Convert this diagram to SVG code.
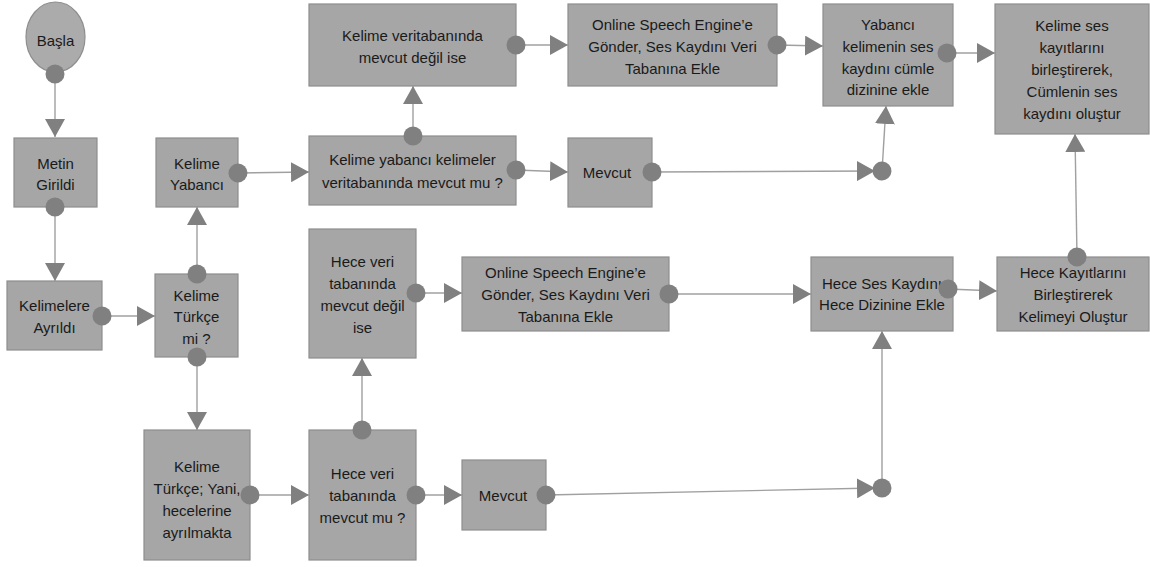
<svg xmlns="http://www.w3.org/2000/svg" width="1150" height="567" viewBox="0 0 1150 567">
<defs>
<style>
.box{fill:#a6a6a6;stroke:#8e8e8e;stroke-width:1.2}
.t{font-family:"Liberation Sans",Arial,sans-serif;font-size:15px;fill:#1a1a1a;text-anchor:middle;dominant-baseline:central}
.c{fill:none;stroke:#a0a0a0;stroke-width:1.4}
</style>
<marker id="dot" markerUnits="userSpaceOnUse" viewBox="-10 -10 20 20" refX="0" refY="0" markerWidth="20" markerHeight="20" orient="auto">
<circle cx="0" cy="0" r="9.5" fill="#808080"/>
</marker>
<marker id="arr" markerUnits="userSpaceOnUse" viewBox="-18 -10 18 20" refX="0" refY="0" markerWidth="18" markerHeight="20" orient="auto">
<path d="M-18,-10 L0,0 L-18,10 Z" fill="#808080"/>
</marker>
</defs>
<rect width="1150" height="567" fill="#ffffff"/>

<g id="n-basla"><ellipse cx="55.5" cy="37" rx="29.5" ry="35" fill="#ababab" stroke="#8e8e8e" stroke-width="1.2"/><text class="t" x="55.5" y="40">Başla</text></g>
<g id="n-metin"><rect class="box" x="14" y="138" width="83" height="69"/><text class="t" x="55.5" y="163">Metin</text><text class="t" x="55.5" y="184">Girildi</text></g>
<g id="n-kelimelere"><rect class="box" x="7" y="281" width="95" height="69"/><text class="t" x="54.5" y="305">Kelimelere</text><text class="t" x="54.5" y="327">Ayrıldı</text></g>
<g id="n-turkce"><rect class="box" x="155" y="274" width="83" height="83"/><text class="t" x="196.5" y="295">Kelime</text><text class="t" x="196.5" y="316">Türkçe</text><text class="t" x="196.5" y="338">mi ?</text></g>
<g id="n-yabanci"><rect class="box" x="156" y="138" width="82" height="69"/><text class="t" x="197" y="163">Kelime</text><text class="t" x="197" y="184">Yabancı</text></g>
<g id="n-yani"><rect class="box" x="144" y="430" width="106" height="130"/><text class="t" x="197" y="466">Kelime</text><text class="t" x="197" y="488">Türkçe; Yani,</text><text class="t" x="197" y="510">hecelerine</text><text class="t" x="197" y="532">ayrılmakta</text></g>
<g id="n-kdegil"><rect class="box" x="309" y="4" width="207" height="82"/><text class="t" x="412.5" y="35">Kelime veritabanında</text><text class="t" x="412.5" y="57">mevcut değil ise</text></g>
<g id="n-kmu"><rect class="box" x="309" y="136" width="207" height="69"/><text class="t" x="412.5" y="159">Kelime yabancı kelimeler</text><text class="t" x="412.5" y="182">veritabanında mevcut mu ?</text></g>
<g id="n-online1"><rect class="box" x="568" y="4" width="209" height="82"/><text class="t" x="672.5" y="24">Online Speech Engine’e</text><text class="t" x="672.5" y="46">Gönder, Ses Kaydını Veri</text><text class="t" x="672.5" y="68">Tabanına Ekle</text></g>
<g id="n-mevcut1"><rect class="box" x="568" y="138" width="84" height="69"/><text class="t" x="607" y="172">Mevcut</text></g>
<g id="n-cumle"><rect class="box" x="823" y="4" width="130" height="102"/><text class="t" x="888" y="24">Yabancı</text><text class="t" x="888" y="46">kelimenin ses</text><text class="t" x="888" y="68">kaydını cümle</text><text class="t" x="888" y="89">dizinine ekle</text></g>
<g id="n-birlestir"><rect class="box" x="995" y="4" width="154" height="130"/><text class="t" x="1072" y="25">Kelime ses</text><text class="t" x="1072" y="47">kayıtlarını</text><text class="t" x="1072" y="69">birleştirerek,</text><text class="t" x="1072" y="91">Cümlenin ses</text><text class="t" x="1072" y="113">kaydını oluştur</text></g>
<g id="n-hdegil"><rect class="box" x="309" y="229" width="107" height="129"/><text class="t" x="362.5" y="261">Hece veri</text><text class="t" x="362.5" y="283">tabanında</text><text class="t" x="362.5" y="305">mevcut değil</text><text class="t" x="362.5" y="327">ise</text></g>
<g id="n-hmu"><rect class="box" x="309" y="430" width="107" height="130"/><text class="t" x="362.5" y="473">Hece veri</text><text class="t" x="362.5" y="495">tabanında</text><text class="t" x="362.5" y="517">mevcut mu ?</text></g>
<g id="n-online2"><rect class="box" x="462" y="257" width="207" height="74"/><text class="t" x="565.5" y="272">Online Speech Engine’e</text><text class="t" x="565.5" y="294">Gönder, Ses Kaydını Veri</text><text class="t" x="565.5" y="316">Tabanına Ekle</text></g>
<g id="n-mevcut2"><rect class="box" x="462" y="460" width="84" height="70"/><text class="t" x="503" y="495">Mevcut</text></g>
<g id="n-hecesira"><rect class="box" x="811" y="257" width="142" height="74"/><text class="t" x="882" y="283">Hece Ses Kaydını</text><text class="t" x="882" y="304">Hece Dizinine Ekle</text></g>
<g id="n-kelimeol"><rect class="box" x="997" y="257" width="152" height="74"/><text class="t" x="1073" y="272">Hece Kayıtlarını</text><text class="t" x="1073" y="294">Birleştirerek</text><text class="t" x="1073" y="316">Kelimeyi Oluştur</text></g>

<g id="connectors" class="c" marker-start="url(#dot)" marker-end="url(#arr)">
<path d="M55,74 L55,137"/>
<path d="M55,207 L55,281"/>
<path d="M102,316 L155,316"/>
<path d="M197,274 L197,207"/>
<path d="M197,357 L197,430"/>
<path d="M238,173 L309,172"/>
<path d="M250,495 L309,495"/>
<path d="M413,136 L413,86"/>
<path d="M516,45 L568,45"/>
<path d="M516,170 L568,172"/>
<path d="M777,45 L823,46"/>
<path d="M652,172 L875,171"/>
<path d="M882,171 L886,106"/>
<path d="M947,53 L995,53"/>
<path d="M362,430 L362,358"/>
<path d="M416,293 L462,293"/>
<path d="M416,495 L462,495"/>
<path d="M669,294 L811,294"/>
<path d="M546,495 L875,488"/>
<path d="M882,488 L882,331"/>
<path d="M948,289 L997,291"/>
<path d="M1077,257 L1075,134"/>
</g>
</svg>
